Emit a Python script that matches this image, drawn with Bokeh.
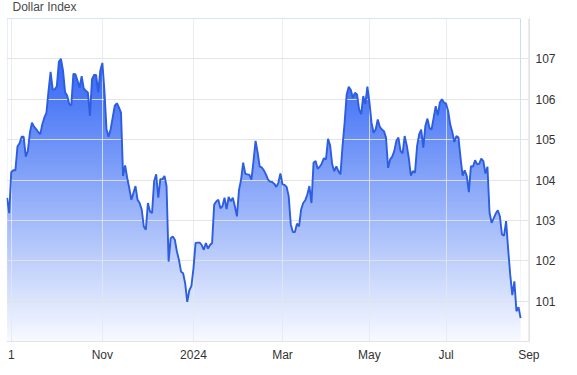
import numpy as np
from bokeh.plotting import figure
from bokeh.models import Range1d, FixedTicker
from bokeh.embed import file_html
from bokeh.resources import INLINE

# Dollar Index, one value per trading session (late Aug 2023 - late Aug 2024)
aug_oct_2023 = [103.56, 103.18, 104.20, 104.24, 104.24, 104.83, 104.91, 105.07, 105.07, 104.58,
                104.72, 105.17, 105.42, 105.32, 105.26, 105.19, 105.13, 105.38, 105.55, 105.67,
                106.21, 106.68, 106.25, 106.24, 106.32, 106.93, 107.00, 106.71, 106.17, 106.09,
                105.88, 105.85, 106.63, 106.62, 106.46, 106.29, 106.57, 106.27, 106.21, 106.17,
                105.59, 106.50, 106.60, 106.60, 106.17, 106.71]
nov_dec_2023 = [106.90, 106.21, 105.26, 105.07, 105.26, 105.55, 105.84, 105.90, 105.80, 105.67,
                104.10, 104.36, 104.05, 103.80, 103.51, 103.68, 103.85, 103.51, 103.43, 103.27,
                102.85, 102.77, 103.43, 103.22, 103.18, 103.97, 104.14, 103.56, 104.02, 104.02,
                104.10, 103.85, 101.98, 102.56, 102.60, 102.52, 102.23, 102.02, 101.73, 101.69,
                101.44, 100.98, 101.27, 101.37]
jan_feb_2024 = [101.81, 102.44, 102.45, 102.45, 102.39, 102.27, 102.44, 102.30, 102.39, 102.44,
                103.39, 103.47, 103.51, 103.30, 103.35, 103.56, 103.28, 103.58, 103.47, 103.56,
                103.35, 103.10, 103.76, 104.01, 104.43, 104.16, 104.14, 104.13, 104.01, 104.47,
                104.97, 104.68, 104.33, 104.31, 104.24, 104.14, 104.01, 103.96, 103.95, 103.91,
                103.83, 103.93, 104.16]
mar_apr_2024 = [103.89, 103.88, 103.83, 103.60, 102.90, 102.71, 102.71, 102.92, 102.85, 103.27,
                103.43, 103.50, 103.64, 103.85, 103.43, 104.43, 104.47, 104.28, 104.33, 104.41,
                104.54, 104.51, 105.02, 104.86, 104.39, 104.22, 104.34, 104.22, 104.14, 104.84,
                105.42, 106.12, 106.31, 106.23, 106.04, 106.16, 106.12, 105.75, 105.63, 106.08,
                105.88, 106.31]
may_jun_2024 = [105.92, 105.42, 105.17, 105.25, 105.50, 105.32, 105.25, 105.21, 105.05, 104.30,
                104.51, 104.58, 104.72, 104.97, 105.05, 104.72, 104.66, 105.09, 104.86, 104.55,
                104.11, 104.22, 104.18, 104.84, 105.13, 105.25, 104.80, 105.34, 105.52, 105.29,
                105.25, 105.54, 105.83, 105.60, 105.92, 106.00, 105.92]
jul_aug_2024 = [105.89, 105.71, 105.38, 105.19, 104.94, 105.09, 105.05, 104.55, 104.11, 104.24,
                104.10, 103.70, 104.34, 104.33, 104.49, 104.39, 104.40, 104.53, 104.47, 104.16,
                104.33, 103.19, 102.94, 103.05, 103.17, 103.25, 103.10, 102.65, 102.62, 102.98,
                102.28, 101.65, 101.15, 101.49, 100.75, 100.85, 100.58]

# session index where each labelled month starts, and its label
tick_sessions = [2, 46, 90, 133, 175, 212, 252]
tick_labels = ["1", "Nov", "2024", "Mar", "May", "Jul", "Sep"]
y_ticks = [101, 102, 103, 104, 105, 106, 107]

dxy = aug_oct_2023 + nov_dec_2023 + jan_feb_2024 + mar_apr_2024 + may_jun_2024 + jul_aug_2024
session = list(range(len(dxy)))

Y0, Y1 = 100, 108
FONT = "Liberation Sans"

p = figure(width=577, height=375, output_backend="svg", toolbar_location=None,
           x_range=Range1d(-0.3, 252.3), y_range=Range1d(Y0, Y1),
           y_axis_location="right", title="Dollar Index",
           min_border_left=14, min_border_right=40, min_border_top=26, min_border_bottom=26,
           margin=(-8, 0, 0, -8))
p.outline_line_color = None
p.background_fill_color = "white"
p.border_fill_color = "white"

p.title.align = "left"
p.title.offset = 6
p.title.standoff = 9
p.title.text_font = FONT
p.title.text_font_size = "12px"
p.title.text_font_style = "normal"
p.title.text_color = "#4a4a4a"

# vertical gradient fill under the curve
rows = 256
t = np.clip((np.linspace(Y0, Y1, rows) - 100.0) / 7.0, 0, 1)
top = np.array([50, 102, 245])
bot = np.array([248, 250, 255])
img = np.zeros((rows, 1), dtype=np.uint32)
view = img.view(dtype=np.uint8).reshape((rows, 1, 4))
for i in range(rows):
    c = bot + (top - bot) * t[i]
    view[i, 0, 0] = int(c[0]); view[i, 0, 1] = int(c[1]); view[i, 0, 2] = int(c[2]); view[i, 0, 3] = 255
p.image_rgba(image=[img], x=0, y=Y0, dw=len(dxy) - 1, dh=Y1 - Y0, level="image")
p.varea(x=session, y1=dxy, y2=Y1, fill_color="white", level="image")

p.line(session, dxy, line_color="#2d5de0", line_width=1.9)

# x axis
xa = p.xaxis[0]
xa.ticker = FixedTicker(ticks=tick_sessions)
xa.major_label_overrides = {s: l for s, l in zip(tick_sessions, tick_labels)}
xa.axis_line_color = "#e3e3e3"
xa.major_tick_line_color = None
xa.major_tick_out = 0
xa.major_tick_in = 0
xa.minor_tick_line_color = None
xa.major_label_standoff = 6
xa.major_label_text_font = FONT
xa.major_label_text_font_size = "12px"
xa.major_label_text_color = "#333333"

ya = p.yaxis[0]
ya.ticker = FixedTicker(ticks=y_ticks)
ya.axis_line_color = "#e3e3e3"
ya.major_tick_line_color = None
ya.major_tick_out = 0
ya.major_tick_in = 0
ya.minor_tick_line_color = None
ya.major_label_standoff = 6
ya.major_label_text_font = FONT
ya.major_label_text_font_size = "12px"
ya.major_label_text_color = "#333333"

p.xgrid.ticker = FixedTicker(ticks=tick_sessions)
p.xgrid.grid_line_color = "#e4e8ef"
p.xgrid.grid_line_alpha = 0.8
p.ygrid.ticker = FixedTicker(ticks=y_ticks + [108])
p.ygrid.grid_line_color = "#e2e2e2"
p.ygrid.grid_line_alpha = 0.9

open("out.html", "w").write(file_html(p, INLINE))
